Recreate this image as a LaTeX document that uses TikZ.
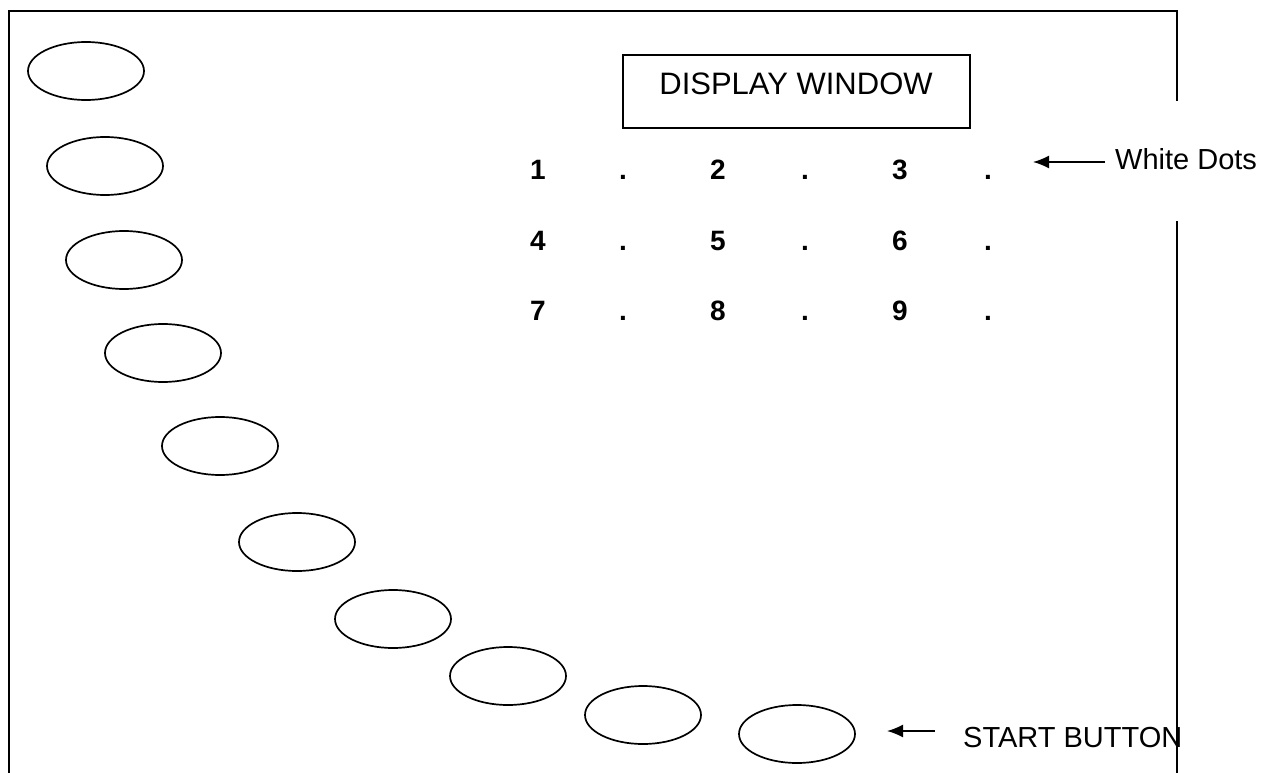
\documentclass[tikz,border=0pt]{standalone}
\usepackage{fontspec}
\setmainfont{Liberation Sans}
\usetikzlibrary{arrows.meta,shapes.geometric}

\tikzset{
  frameline/.style={line width=1.9pt, line cap=rect},
  button/.style={draw, line width=1.7pt, ellipse, minimum width=116pt, minimum height=58pt, inner sep=0pt},
  winbox/.style={draw, line width=1.5pt, minimum width=347pt, minimum height=73pt, inner sep=0pt},
  digit/.style={anchor=base, inner sep=0pt, font=\fontsize{28}{30}\selectfont\bfseries},
  label/.style={anchor=base west, inner sep=0pt, font=\fontsize{29}{34}\selectfont},
  pointer/.style={line width=1.6pt, -{Latex[length=16pt,width=13pt]}}
}

\begin{document}
\begin{tikzpicture}[x=1pt, y=-1pt]
  \useasboundingbox (0,0) rectangle (1269,773);

  % outer casing, open at the bottom, with a gap on the right side
  \draw[frameline] (9,773) -- (9,11) -- (1177,11) -- (1177,100);
  \draw[frameline] (1177,222) -- (1177,773);

  % row of round buttons curving down to the start button
  \node[button] (b1)  at (86,71)   {};
  \node[button] (b2)  at (105,166) {};
  \node[button] (b3)  at (124,260) {};
  \node[button] (b4)  at (163,353) {};
  \node[button] (b5)  at (220,446) {};
  \node[button] (b6)  at (297,542) {};
  \node[button] (b7)  at (393,619) {};
  \node[button] (b8)  at (508,676) {};
  \node[button] (b9)  at (643,715) {};
  \node[button] (b10) at (797,734) {};

  % display window
  \node[winbox] (win) at (796.5,91.5) {};
  \node[anchor=base, inner sep=0pt, font=\fontsize{31}{36}\selectfont] (wintext) at (796,95) {DISPLAY WINDOW};

  % number grid with white dots
  \foreach \r/\y in {0/179,1/250,2/320}{
    \foreach \c/\x in {0/538,1/718,2/900}{
      \pgfmathtruncatemacro{\n}{3*\r+\c+1}
      \node[digit] (d\n) at (\x,\y) {\n};
    }
    \foreach \c/\x in {0/623,1/805,2/988}{
      \node[digit] (dot\r\c) at (\x,\y) {.};
    }
  }

  % labels with pointers
  \node[label] (wd) at (1115,170) {White Dots};
  \coordinate (wdtip) at (1033,162);
  \coordinate (wdtail) at (1105,162);
  \draw[pointer] (wdtail) -- (wdtip);

  \node[label] (sb) at (963,747) {START BUTTON};
  \coordinate (sbtip) at (887,731);
  \coordinate (sbtail) at (935,731);
  \draw[pointer] (sbtail) -- (sbtip);
\end{tikzpicture}
\end{document}
